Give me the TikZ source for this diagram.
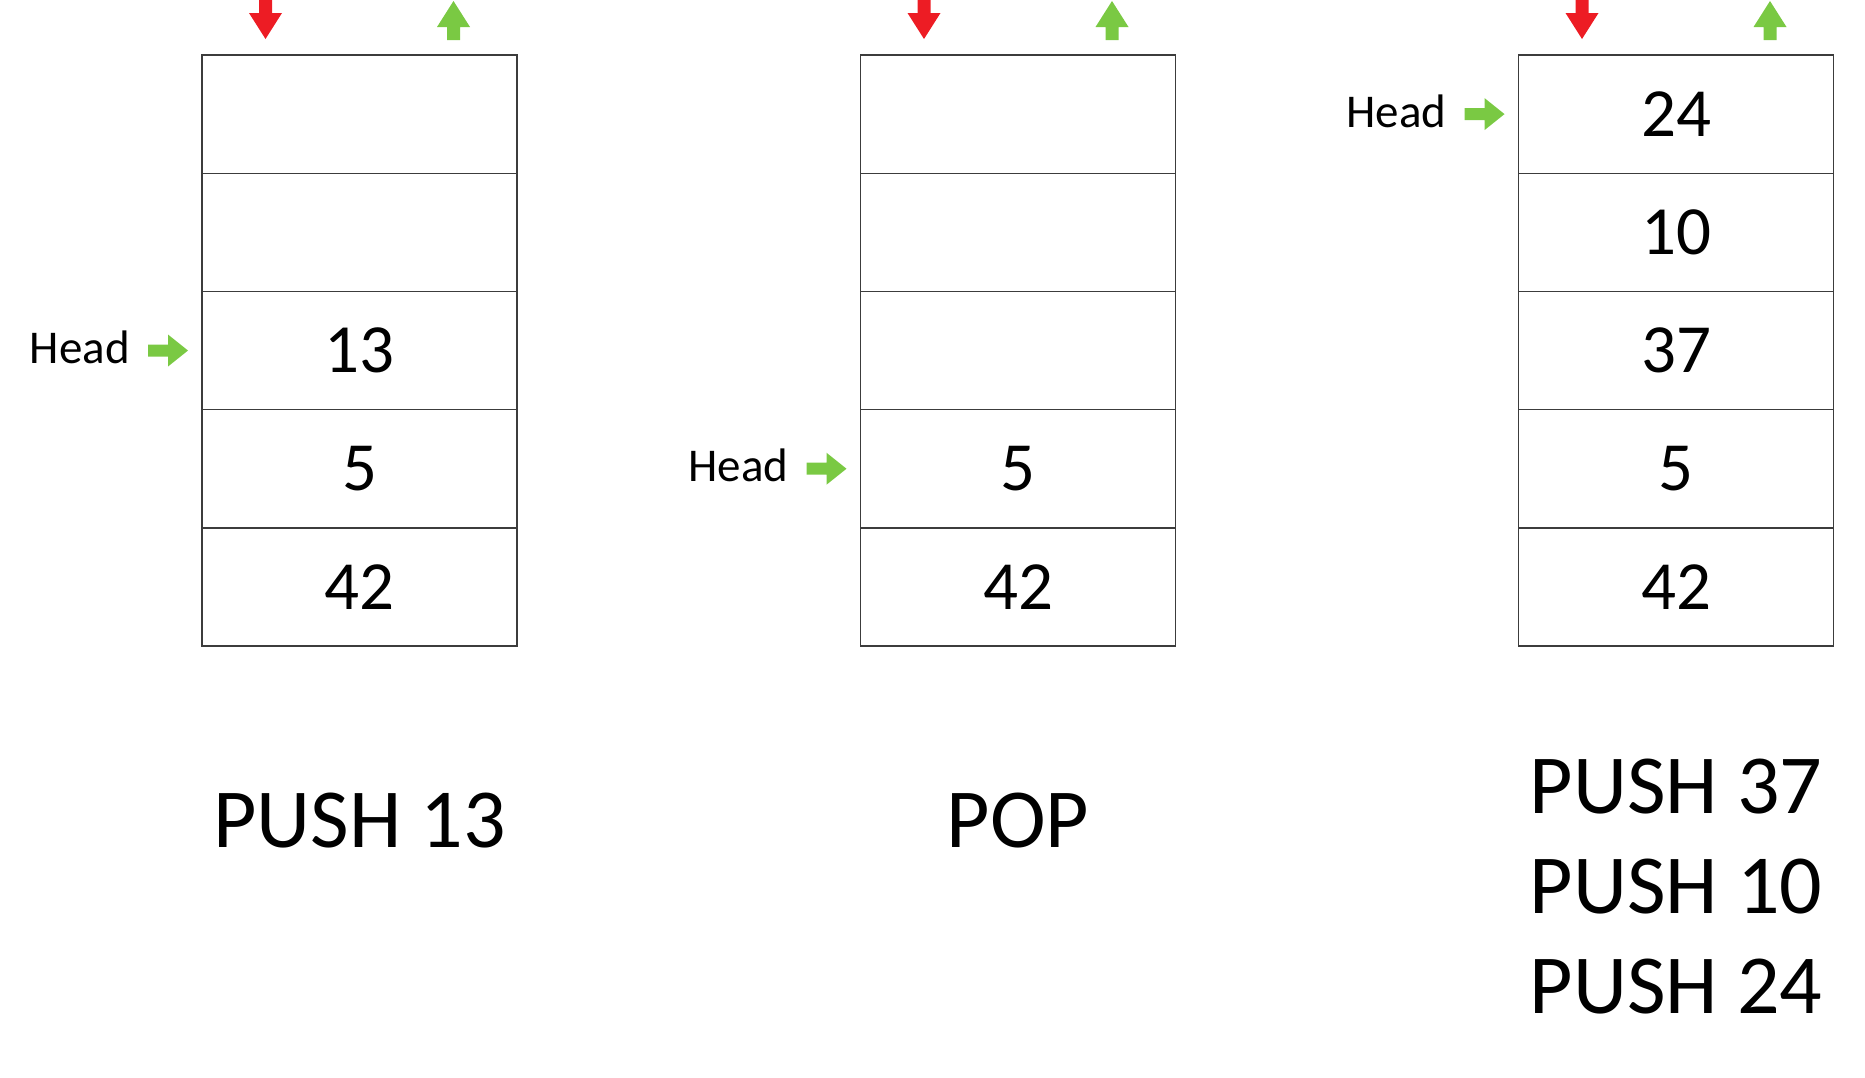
\documentclass[tikz,border=0pt]{standalone}
\usepackage{fontspec}
\setmainfont{Carlito}
\definecolor{redc}{RGB}{237,28,36}
\definecolor{greenc}{RGB}{122,201,67}
\definecolor{linec}{RGB}{60,60,60}
\begin{document}
\begin{tikzpicture}[x=1pt,y=-1pt,
  cell/.style={draw=linec,line width=1.4pt,minimum width=315pt,minimum height=118.2pt,inner sep=0pt,outer sep=0pt},
  num/.style={font=\fontsize{69}{80}\selectfont},
  headlbl/.style={font=\fontsize{47}{52}\selectfont,anchor=east,inner sep=0pt},
  oplbl/.style={font=\fontsize{84}{96}\selectfont,align=center,inner sep=0pt},
  downarr/.pic={\fill[redc] (-6.5,0) -- (6.5,0) -- (6.5,13) -- (16.5,13) -- (0,39) -- (-16.5,13) -- (-6.5,13) -- cycle;},
  uparr/.pic={\fill[greenc] (-6.5,39) -- (6.5,39) -- (6.5,26) -- (16.5,26) -- (0,0) -- (-16.5,26) -- (-6.5,26) -- cycle;},
  rightarr/.pic={\fill[greenc] (-40,-6) -- (-20,-6) -- (-20,-16) -- (0,0) -- (-20,16) -- (-20,6) -- (-40,6) -- cycle;}
]
\useasboundingbox (0,0) rectangle (1865,1077);
% stack columns
\foreach \s/\x in {a/359.5,b/1018,c/1676}{
  \foreach \r in {1,...,5}{
    \node[cell] (\s\r) at (\x,{55+118.2*(\r-0.5)}) {};
  }
}
% contents
\node[num] at (a3) {13};
\node[num] at (a4) {5};
\node[num] at (a5) {42};
\node[num] at (b4) {5};
\node[num] at (b5) {42};
\node[num] at (c1) {24};
\node[num] at (c2) {10};
\node[num] at (c3) {37};
\node[num] at (c4) {5};
\node[num] at (c5) {42};
% top arrows
\foreach \s in {a,b,c}{
  \coordinate (\s d) at ([xshift=-94pt]\s1.north |- 0,0);
  \coordinate (\s u) at ([xshift=94pt]\s1.north |- 0,1);
  \pic at (\s d) {downarr};
  \pic at (\s u) {uparr};
}
% head pointers
\coordinate (ha) at ([xshift=-14pt]a3.west);
\coordinate (hb) at ([xshift=-14pt]b4.west);
\coordinate (hc) at ([xshift=-14pt]c1.west);
\pic at (ha) {rightarr};
\pic at (hb) {rightarr};
\pic at (hc) {rightarr};
\node[headlbl] (la) at ([xshift=-58pt,yshift=3pt]ha) {Head};
\node[headlbl] (lb) at ([xshift=-58pt,yshift=3pt]hb) {Head};
\node[headlbl] (lc) at ([xshift=-58pt,yshift=3pt]hc) {Head};
% operation labels
\node[oplbl] (opa) at (359.5,821) {PUSH 13};
\node[oplbl] (opb) at (1018,821) {POP};
\node[oplbl] (opc1) at (1676,787) {PUSH 37};
\node[oplbl] (opc2) at (1676,887) {PUSH 10};
\node[oplbl] (opc3) at (1676,987) {PUSH 24};
\end{tikzpicture}
\end{document}
